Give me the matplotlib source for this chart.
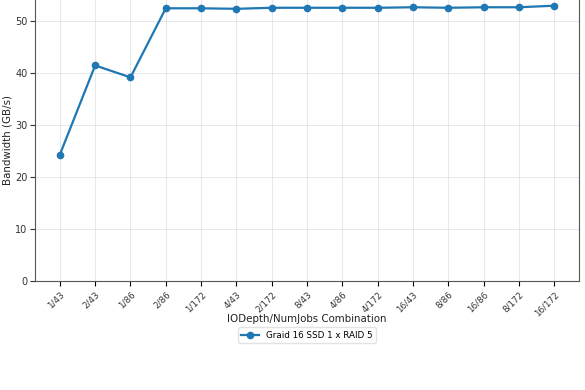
import matplotlib
matplotlib.use("Agg")
import matplotlib.pyplot as plt

# IODepth/NumJobs combinations and measured bandwidth
combos = ["1/43", "2/43", "1/86", "2/86", "1/172", "4/43", "2/172", "8/43",
          "4/86", "4/172", "16/43", "8/86", "16/86", "8/172", "16/172"]
bandwidth = [24.3, 41.5, 39.2, 52.5, 52.5, 52.4, 52.6, 52.6,
             52.6, 52.6, 52.7, 52.6, 52.7, 52.7, 53.0]

fig = plt.figure(figsize=(5.85, 3.9), dpi=100)
ax = fig.add_axes([0.06, 0.2795, 0.9297, 0.725])

ax.plot(range(len(combos)), bandwidth, marker="o", markersize=4.5,
        linewidth=1.6, color="#1f77b4", label="Graid 16 SSD 1 x RAID 5")

ax.set_ylim(bottom=0)
ax.set_xticks(range(len(combos)))
ax.set_xticklabels(combos, rotation=45, ha="right", rotation_mode="anchor",
                   fontsize=6.3, color="#333333")
ax.tick_params(axis="x", pad=3)
ax.tick_params(axis="y", labelsize=7, colors="#333333", pad=2)
ax.set_xlabel("IODepth/NumJobs Combination", fontsize=7.4, color="#222222")
ax.xaxis.set_label_coords(0.5, -0.118)
ax.set_ylabel("Bandwidth (GB/s)", fontsize=7.4, color="#222222")
ax.yaxis.set_label_coords(-0.042, 0.5)
ax.grid(True, color="#d5dae0", alpha=0.6, linewidth=0.7)

for s in ax.spines.values():
    s.set_color("#555555")

ax.legend(loc="upper center", bbox_to_anchor=(0.5, -0.148), fontsize=6.3,
          frameon=True, edgecolor="#dddddd", fancybox=True,
          borderpad=0.4, handlelength=2.0)

fig.savefig("out.png", dpi=100)
